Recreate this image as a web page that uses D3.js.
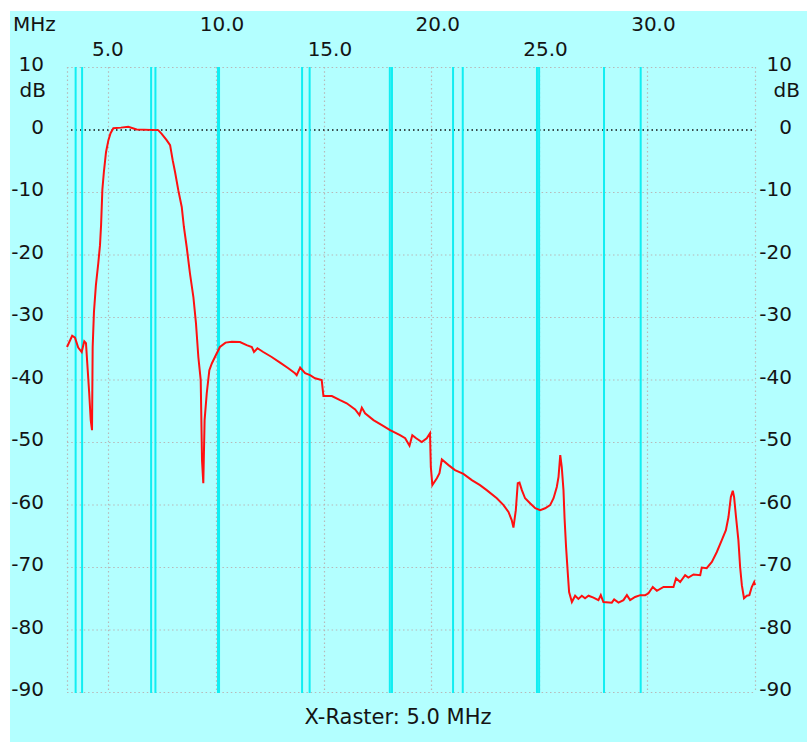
<!DOCTYPE html>
<html>
<head>
<meta charset="utf-8">
<script src="https://cdn.jsdelivr.net/npm/d3@7/dist/d3.min.js"></script>
<style>
  body { margin: 0; background: #fff; }
  text { font-family: "DejaVu Sans", Verdana, sans-serif; fill: #141414; }
</style>
</head>
<body>
<svg id="chart" width="807" height="742"></svg>
<script>
// measured trace, frequency in MHz and level in dB
var freqs = [3.10, 3.34, 3.47, 3.62, 3.78, 3.90, 3.98, 4.04, 4.13, 4.20, 4.26, 4.29, 4.35, 4.44, 4.55, 4.63, 4.68, 4.74, 4.81, 4.91,
  5.02, 5.12, 5.25, 5.60, 5.94, 6.33, 7.33, 7.49, 7.72, 7.88, 8.00, 8.11, 8.26, 8.42, 8.52, 8.65, 8.80, 8.96, 9.08, 9.19,
  9.30, 9.36, 9.42, 9.48, 9.58, 9.70, 9.82, 9.96, 10.19, 10.45, 10.74, 11.12, 11.43, 11.67, 11.77, 11.93, 12.20, 12.59, 12.98, 13.36,
  13.67, 13.75, 13.91, 14.14, 14.37, 14.60, 14.91, 14.99, 15.38, 15.76, 16.07, 16.46, 16.66, 16.77, 16.92, 17.31, 17.70, 18.08, 18.54, 18.78,
  18.98, 19.11, 19.29, 19.55, 19.78, 19.93, 19.97, 20.04, 20.25, 20.37, 20.48, 20.79, 21.09, 21.48, 21.87, 22.25, 22.56, 23.03, 23.34, 23.57,
  23.72, 23.80, 23.91, 24.00, 24.08, 24.19, 24.34, 24.57, 24.81, 25.04, 25.27, 25.50, 25.66, 25.81, 25.89, 25.97, 26.04, 26.12, 26.17, 26.24,
  26.32, 26.38, 26.51, 26.66, 26.81, 26.97, 27.12, 27.28, 27.51, 27.74, 27.85, 27.97, 28.36, 28.47, 28.67, 28.90, 29.06, 29.21, 29.44, 29.68,
  29.91, 30.06, 30.26, 30.45, 30.76, 31.22, 31.34, 31.53, 31.76, 31.91, 32.15, 32.46, 32.53, 32.76, 33.00, 33.23, 33.46, 33.65, 33.77, 33.88,
  33.97, 34.03, 34.12, 34.23, 34.31, 34.39, 34.49, 34.62, 34.74, 34.85, 34.96, 35.00];
var levels = [-34.8, -33.0, -33.3, -34.9, -35.6, -33.9, -34.2, -37.4, -42.2, -46.5, -48.1, -34.8, -29.2, -24.9, -21.4, -18.5, -15.3, -9.6, -6.8, -3.6,
  -1.7, -0.6, 0.2, 0.3, 0.45, 0.0, -0.1, -0.7, -1.7, -2.5, -4.9, -6.8, -9.7, -12.4, -15.6, -18.8, -23.0, -26.8, -31.0, -36.4,
  -40.1, -52.9, -56.6, -46.5, -42.2, -38.5, -37.4, -36.4, -34.8, -34.1, -33.95, -34.0, -34.5, -34.8, -35.6, -35.0, -35.6, -36.4, -37.3, -38.2,
  -39.0, -39.3, -38.1, -39.0, -39.3, -39.8, -40.1, -42.65, -42.65, -43.3, -43.8, -44.8, -45.7, -44.5, -45.4, -46.5, -47.3, -48.1, -48.9, -49.4,
  -50.6, -48.9, -49.4, -50.0, -49.4, -48.6, -54.0, -56.9, -55.8, -55.0, -52.8, -53.7, -54.5, -55.1, -56.1, -56.9, -57.7, -59.0, -60.1, -61.2,
  -62.5, -63.7, -60.9, -56.6, -56.5, -57.7, -59.0, -59.8, -60.6, -60.9, -60.6, -60.1, -59.0, -57.2, -55.6, -52.1, -54.0, -57.7, -62.2, -66.8,
  -71.0, -74.0, -75.6, -74.6, -75.1, -74.6, -75.0, -74.6, -74.9, -75.3, -74.5, -75.6, -75.7, -75.2, -75.7, -75.3, -74.5, -75.3, -74.8, -74.5,
  -74.5, -74.2, -73.2, -73.8, -73.2, -73.2, -71.8, -72.4, -71.3, -71.7, -71.2, -71.3, -70.1, -70.2, -69.2, -67.6, -65.7, -64.1, -62.0, -58.8,
  -57.8, -58.8, -62.0, -65.7, -70.0, -72.9, -75.0, -74.6, -74.5, -73.2, -72.4, -72.9];

// amateur band edges drawn as markers
var bandEdges = [3.5, 3.8, 7.0, 7.2, 10.1, 10.15, 14.0, 14.35, 18.068, 18.168, 21.0, 21.45, 24.89, 24.99, 28.0, 29.7];
var xTicksTop = [10, 20, 30];
var xTicksLow = [5, 15, 25];
var yTicks = [10, 0, -10, -20, -30, -40, -50, -60, -70, -80, -90];

(function() {
	var svg = d3.select('#chart');
	var X0 = 67, X1 = 755, Y0 = 67, Y1 = 692;

	var x = d3.scaleLinear().domain([3.1, 35.0]).range([X0, X1]);
	var y = d3.scaleLinear().domain([10, -90]).range([Y0, Y1]);

	svg.append('rect').attr('x', 10).attr('y', 11).attr('width', 797).attr('height', 731).attr('fill', '#b3ffff');

	var grid = svg.append('g').attr('stroke', '#b8b8b8').attr('stroke-width', 1.2).attr('stroke-dasharray', '1.5,2.7');
	grid.selectAll('line.h').data(yTicks.filter(function(d) { return d != 0; })).enter().append('line')
		.attr('x1', X0).attr('x2', X1)
		.attr('y1', function(d) { return y(d) + 0.5; }).attr('y2', function(d) { return y(d) + 0.5; });
	grid.selectAll('line.v').data([3.1, 5, 10, 15, 20, 25, 30, 35]).enter().append('line')
		.attr('y1', Y0).attr('y2', Y1)
		.attr('x1', function(d) { return Math.round(x(d)) + 0.5; }).attr('x2', function(d) { return Math.round(x(d)) + 0.5; });

	svg.append('line').attr('x1', 71).attr('x2', X1).attr('y1', y(0) + 0.5).attr('y2', y(0) + 0.5)
		.attr('stroke', '#111').attr('stroke-width', 1.4).attr('stroke-dasharray', '1.5,3');

	svg.append('g').selectAll('line').data(bandEdges).enter().append('line')
		.attr('x1', function(d) { return x(d); }).attr('x2', function(d) { return x(d); })
		.attr('y1', Y0).attr('y2', Y1 + 1)
		.attr('stroke', '#10eef2').attr('stroke-width', 2);

	var trace = d3.line().x(function(d) { return x(d[0]); }).y(function(d) { return y(d[1]); });
	svg.append('path').datum(d3.zip(freqs, levels))
		.attr('d', trace).attr('fill', 'none').attr('stroke', '#ff1010').attr('stroke-width', 2);

	svg.append('text').attr('x', 13).attr('y', 31).style('font-size', '20px').text('MHz');
	svg.selectAll('text.top').data(xTicksTop).enter().append('text')
		.attr('x', function(d) { return x(d) - 16; }).attr('y', 31).style('font-size', '20px')
		.text(function(d) { return d.toFixed(1); });
	svg.selectAll('text.low').data(xTicksLow).enter().append('text')
		.attr('x', function(d) { return x(d) - 16; }).attr('y', 56).style('font-size', '20px')
		.text(function(d) { return d.toFixed(1); });

	svg.selectAll('text.yl').data(yTicks).enter().append('text')
		.attr('x', 44).attr('y', function(d) { return y(d) - 3; })
		.attr('text-anchor', 'end').attr('dominant-baseline', 'central').style('font-size', '20px')
		.text(function(d) { return d; });
	svg.selectAll('text.yr').data(yTicks).enter().append('text')
		.attr('x', 792).attr('y', function(d) { return y(d) - 3; })
		.attr('text-anchor', 'end').attr('dominant-baseline', 'central').style('font-size', '20px')
		.text(function(d) { return d; });
	svg.append('text').attr('x', 46).attr('y', 97).attr('text-anchor', 'end').style('font-size', '20px').text('dB');
	svg.append('text').attr('x', 800).attr('y', 97).attr('text-anchor', 'end').style('font-size', '20px').text('dB');

	svg.append('text').attr('x', 398).attr('y', 724).attr('text-anchor', 'middle').style('font-size', '21px').text('X-Raster: 5.0 MHz');
}());
</script>
</body>
</html>
